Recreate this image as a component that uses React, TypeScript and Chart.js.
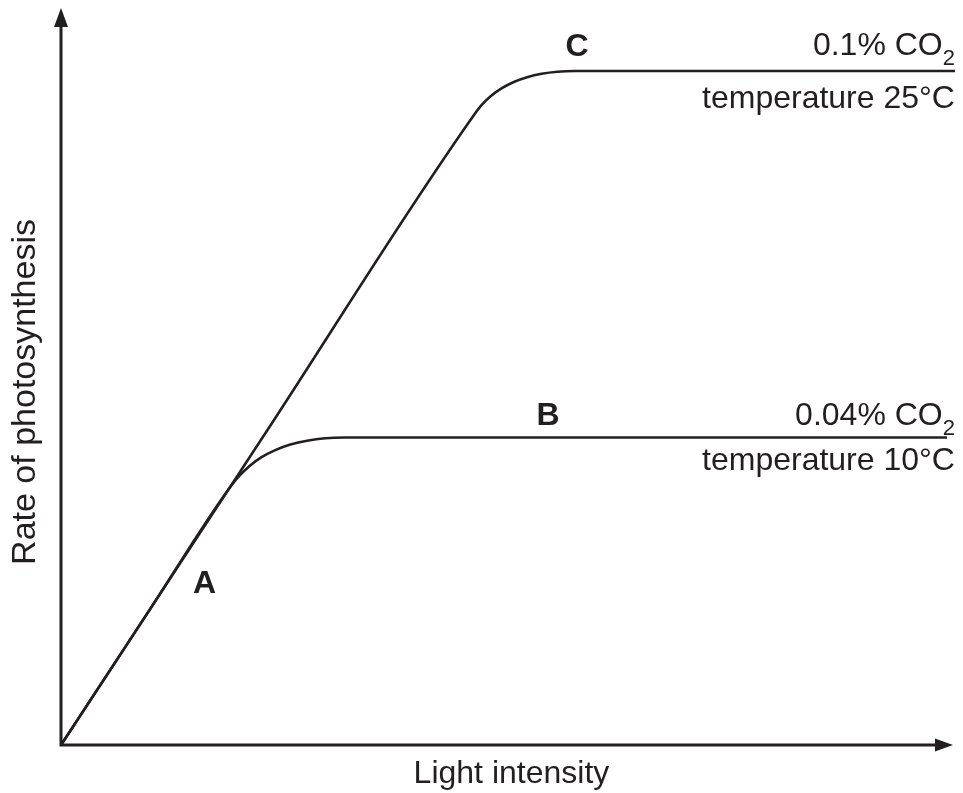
import React, { useEffect, useRef } from "react";
import { Chart, registerables } from "chart.js";

Chart.register(...registerables);

// Upper curve: 0.1% CO2, 25°C
const lightHigh = [0, 23, 46.3, 47.19, 48.23, 49.43, 50.76, 52.25, 53.88, 55.67, 57.62, 100.22];
const rateHigh = [0, 42.46, 85.48, 86.88, 88.09, 89.12, 89.96, 90.61, 91.08, 91.36, 91.45, 91.45];

// Lower curve: 0.04% CO2, 10°C
const lightLow = [0, 10, 18.95, 19.96, 21.14, 22.49, 24.02, 25.72, 27.59, 29.62, 31.84, 99.33];
const rateLow = [0, 18.46, 34.98, 36.47, 37.87, 39.05, 40.01, 40.76, 41.29, 41.62, 41.72, 41.72];

// Point letters
const pointLetters = ["A", "B", "C"];
const pointLetterX = [16.09, 54.6, 57.85];
const pointLetterY = [21.91, 44.78, 94.84];

// Right-hand condition labels
const conditionMain = ["0.1% CO", "0.04% CO"];
const conditionSub = ["2", "2"];
const conditionY = [93.62, 43.42];
const temperatureText = ["temperature 25°C", "temperature 10°C"];
const temperatureY = [86.43, 37.31];
const labelRightX = 100.22;

const xTitle = "Light intensity";
const yTitle = "Rate of photosynthesis";

const INK = "#231f20";
const FONT = "'Liberation Sans', Arial, Helvetica, sans-serif";

const decorPlugin = {
  id: "decor",
  afterDatasetsDraw(chart: any) {
    const ctx = chart.ctx as CanvasRenderingContext2D;
    const { left, right, top, bottom } = chart.chartArea;
    const xs = chart.scales.x;
    const ys = chart.scales.y;
    ctx.save();
    // axes
    ctx.strokeStyle = INK;
    ctx.fillStyle = INK;
    ctx.lineWidth = 3;
    ctx.lineCap = "butt";
    ctx.beginPath();
    ctx.moveTo(left, bottom + 1.5);
    ctx.lineTo(left, top + 18);
    ctx.moveTo(left - 1.5, bottom);
    ctx.lineTo(right - 17, bottom);
    ctx.stroke();
    // y arrow
    ctx.beginPath();
    ctx.moveTo(left, top);
    ctx.lineTo(left - 7, top + 19);
    ctx.lineTo(left + 7, top + 19);
    ctx.closePath();
    ctx.fill();
    // x arrow
    ctx.beginPath();
    ctx.moveTo(right, bottom);
    ctx.lineTo(right - 18, bottom - 6.5);
    ctx.lineTo(right - 18, bottom + 6.5);
    ctx.closePath();
    ctx.fill();

    // point letters
    ctx.font = `bold 32px ${FONT}`;
    ctx.textAlign = "center";
    ctx.textBaseline = "middle";
    pointLetters.forEach((t, i) => {
      ctx.fillText(t, xs.getPixelForValue(pointLetterX[i]), ys.getPixelForValue(pointLetterY[i]) + 1);
    });

    // condition labels
    ctx.textBaseline = "alphabetic";
    ctx.textAlign = "right";
    const rx = xs.getPixelForValue(labelRightX);
    conditionMain.forEach((t, i) => {
      const by = ys.getPixelForValue(conditionY[i]);
      ctx.font = `22px ${FONT}`;
      const subW = ctx.measureText(conditionSub[i]).width;
      ctx.fillText(conditionSub[i], rx, by + 10);
      ctx.font = `32px ${FONT}`;
      ctx.fillText(t, rx - subW, by);
    });
    ctx.font = `32px ${FONT}`;
    temperatureText.forEach((t, i) => {
      ctx.fillText(t, rx, ys.getPixelForValue(temperatureY[i]));
    });

    // axis titles
    ctx.textAlign = "center";
    ctx.fillText(xTitle, xs.getPixelForValue(50.5), bottom + 38);
    ctx.save();
    ctx.font = `34px ${FONT}`;
    ctx.translate(left - 35, ys.getPixelForValue(47.9));
    ctx.rotate(-Math.PI / 2);
    ctx.textBaseline = "middle";
    ctx.fillText(yTitle, 0, 0);
    ctx.restore();
    ctx.restore();
  },
};

export default function App() {
  const canvasRef = useRef<HTMLCanvasElement | null>(null);

  useEffect(() => {
    const canvas = canvasRef.current;
    if (!canvas) return;
    const chart = new Chart(canvas, {
      type: "line",
      data: {
        datasets: [
          {
            label: "0.1% CO2, 25°C",
            data: lightHigh.map((x, i) => ({ x, y: rateHigh[i] })),
            borderColor: INK,
            borderWidth: 2.6,
            pointRadius: 0,
            fill: false,
            cubicInterpolationMode: "monotone",
            clip: false as any,
          },
          {
            label: "0.04% CO2, 10°C",
            data: lightLow.map((x, i) => ({ x, y: rateLow[i] })),
            borderColor: INK,
            borderWidth: 2.6,
            pointRadius: 0,
            fill: false,
            cubicInterpolationMode: "monotone",
            clip: false as any,
          },
        ],
      },
      options: {
        animation: false,
        responsive: false,
        devicePixelRatio: 1,
        layout: { padding: { left: 61, right: 10, top: 8, bottom: 48 } },
        plugins: { legend: { display: false }, tooltip: { enabled: false } },
        scales: {
          x: { type: "linear", min: 0, max: 100, display: false },
          y: { type: "linear", min: 0, max: 100, display: false },
        },
      },
      plugins: [decorPlugin],
    });
    return () => chart.destroy();
  }, []);

  return (
    <div style={{ position: "absolute", left: 0, top: 0, width: 963, height: 793, background: "#fff" }}>
      <canvas ref={canvasRef} width={963} height={793} style={{ display: "block" }} />
    </div>
  );
}
